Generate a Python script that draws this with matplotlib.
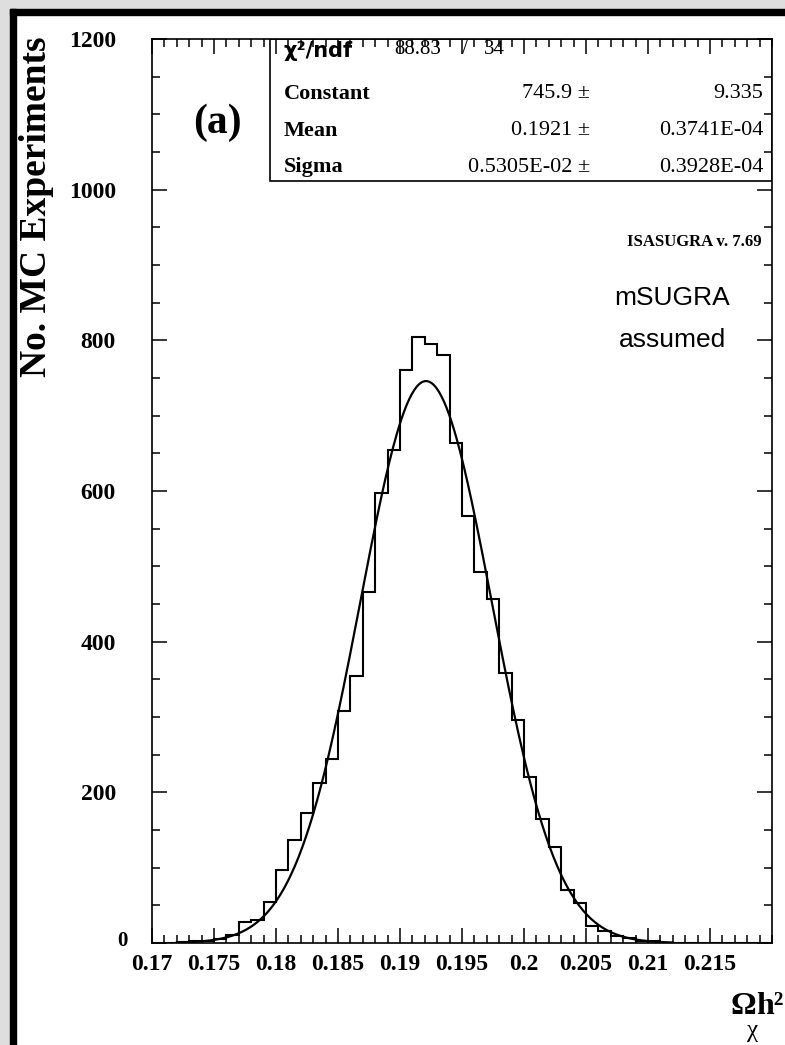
import numpy as np
import matplotlib
matplotlib.use("Agg")
import matplotlib.pyplot as plt
from matplotlib.patches import Rectangle
from matplotlib.ticker import MultipleLocator
from matplotlib.transforms import ScaledTranslation

# histogram: 50 bins of 0.001 from 0.17 to 0.22
x_lo = 0.170
bin_width = 0.001
counts = [0, 0, 1, 2, 3, 5, 10, 28, 31, 55,
          97, 137, 173, 213, 244, 308, 354, 466, 597, 654,
          760, 805, 795, 780, 664, 567, 492, 456, 358, 296,
          220, 165, 127, 71, 53, 23, 16, 9, 6, 3,
          2, 0, 0, 0, 0, 0, 0, 0, 0, 0]

# gaussian fit parameters from the stats box
fit_const = 745.9
fit_mean = 0.1921
fit_sigma = 0.5305e-02
fit_range = (0.172, 0.212)

stat_names = ["Constant", "Mean", "Sigma"]
stat_values = ["745.9 \u00b1", "0.1921 \u00b1", "0.5305E-02 \u00b1"]
stat_errors = ["9.335", "0.3741E-04", "0.3928E-04"]

xticks = [0.17, 0.175, 0.18, 0.185, 0.19, 0.195, 0.2, 0.205, 0.21, 0.215]
yticks = [0, 200, 400, 600, 800, 1000, 1200]

W, H = 785, 1045
fig = plt.figure(figsize=(W / 100, H / 100), dpi=100)
fig.patch.set_facecolor("white")

def fx(px):
    return px / W

def fy(py):
    return 1 - py / H

# grey page edge and black frame of the scanned figure
fig.patches.append(Rectangle((0, 0), fx(10), 1, transform=fig.transFigure,
                             color="#dedede", zorder=0))
fig.patches.append(Rectangle((0, fy(9)), 1, 9 / H, transform=fig.transFigure,
                             color="#dedede", zorder=0))
fig.patches.append(Rectangle((fx(10), 0), fx(6), fy(9), transform=fig.transFigure,
                             color="black", zorder=1))
fig.patches.append(Rectangle((fx(10), fy(15)), 1, 6 / H, transform=fig.transFigure,
                             color="black", zorder=1))

ax = fig.add_axes([fx(152), fy(943), fx(772) - fx(152), fy(39) - fy(943)])

n = len(counts)
edges = np.round(x_lo + bin_width * np.arange(n + 1), 4)
ax.stairs(counts, edges, color="black", lw=1.5, baseline=0)

xf = np.linspace(fit_range[0], fit_range[1], 400)
yf = fit_const * np.exp(-0.5 * ((xf - fit_mean) / fit_sigma) ** 2)
ax.plot(xf, yf, color="black", lw=1.6)

ax.set_xlim(0.17, 0.22)
ax.set_ylim(0, 1200)

ax.xaxis.set_minor_locator(MultipleLocator(0.001))
ax.yaxis.set_minor_locator(MultipleLocator(50))
ax.tick_params(which="both", direction="in", top=True, right=True, width=1.1,
               color="black")
ax.tick_params(which="major", length=11)
ax.tick_params(which="minor", length=5.5)

ax.set_xticks(xticks)
ax.set_xticklabels([str(t) for t in xticks])
ax.set_yticks(yticks)
ax.set_yticklabels([str(t) for t in yticks])
for lab in ax.get_xticklabels() + ax.get_yticklabels():
    lab.set_fontfamily("Liberation Serif")
    lab.set_fontweight("bold")
    lab.set_fontsize(17)
ax.tick_params(axis="x", pad=8)
ax.tick_params(axis="y", pad=26)

# the "0" label sits lower right, as ROOT draws it
zero_lab = ax.get_yticklabels()[0]
zero_lab.set_fontsize(15)
zero_lab.set_transform(zero_lab.get_transform()
                       + ScaledTranslation(0.12, 0.05, fig.dpi_scale_trans))

for s in ax.spines.values():
    s.set_linewidth(1.2)

# stats box
ax.add_patch(Rectangle((fx(270), fy(181)), fx(772) - fx(270), fy(39) - fy(181),
                       transform=fig.transFigure, fill=False, lw=1.2,
                       edgecolor="black", zorder=5))
fig.text(fx(283), fy(51), "\u03c7\u00b2/ndf", fontsize=15, family="DejaVu Sans",
         weight="bold", va="center", ha="left")
fig.text(fx(394), fy(50), "88.83", fontsize=15, family="Liberation Serif",
         va="center", ha="left")
fig.text(fx(462), fy(50), "/", fontsize=15, family="Liberation Serif",
         va="center", ha="left")
fig.text(fx(484), fy(50), "34", fontsize=15, family="Liberation Serif",
         va="center", ha="left")
for i, name in enumerate(stat_names):
    yy = fy(94 + 36.5 * i)
    fig.text(fx(284), yy, name, fontsize=16, family="Liberation Serif",
             weight="bold", va="center", ha="left")
    fig.text(fx(590), yy, stat_values[i], fontsize=16, family="Liberation Serif",
             va="center", ha="right")
    fig.text(fx(763), yy, stat_errors[i], fontsize=16, family="Liberation Serif",
             va="center", ha="right")

fig.text(fx(217), fy(123), "(a)", fontsize=30, family="Liberation Serif",
         weight="bold", va="center", ha="center")
fig.text(fx(762), fy(242), "ISASUGRA v. 7.69", fontsize=12,
         family="Liberation Serif", weight="bold", va="center", ha="right")
fig.text(fx(672), fy(298), "mSUGRA", fontsize=19, family="Liberation Sans",
         va="center", ha="center")
fig.text(fx(672), fy(340), "assumed", fontsize=19, family="Liberation Sans",
         va="center", ha="center")

fig.text(fx(37), fy(207), "No. MC Experiments", fontsize=27,
         family="Liberation Serif", weight="bold", rotation=90,
         va="center", ha="center")

# x axis title: Omega_chi h^2, pieced together like ROOT's TLatex
fig.text(fx(730), fy(1014), "\u03a9", fontsize=23, family="Liberation Serif",
         weight="bold", va="baseline", ha="left")
fig.text(fx(747), fy(1037), "\u03c7", fontsize=18, family="Liberation Serif",
         va="baseline", ha="left")
fig.text(fx(784), fy(1014), "h\u00b2", fontsize=23, family="Liberation Serif",
         weight="bold", va="baseline", ha="right")

fig.savefig("out.png", dpi=100)
